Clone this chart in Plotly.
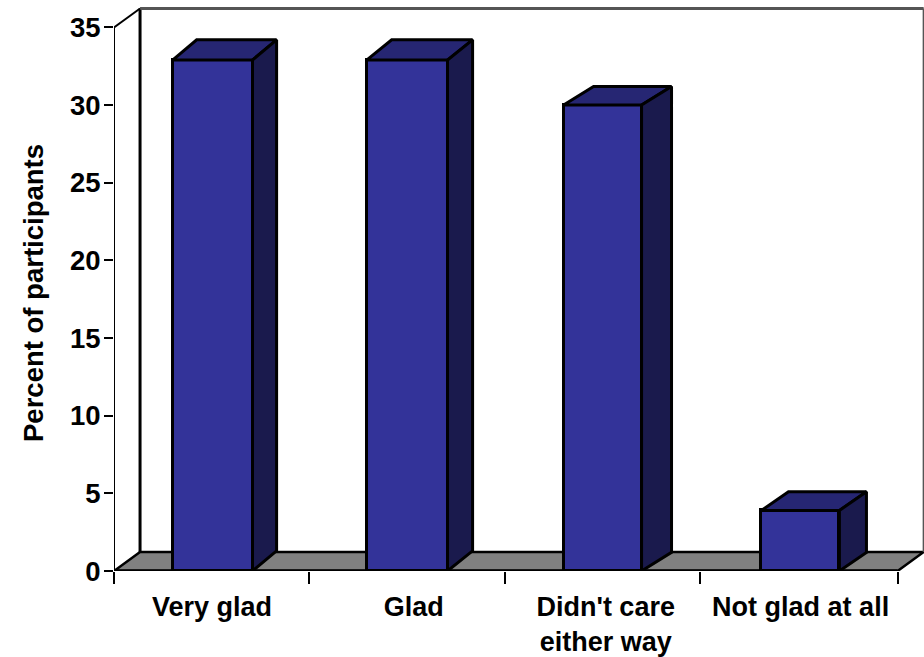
import plotly.graph_objects as go

# Survey responses
categories = ["Very glad", "Glad", "Didn't care<br>either way", "Not glad at all"]
percent = [32.9, 32.9, 30, 3.9]
y_ticks = [0, 5, 10, 15, 20, 25, 30, 35]

# Per-bar placement along the category axis (units of one category)
bar_centres = [0.503, 1.496, 2.494, 3.504]
bar_widths = [0.408, 0.413, 0.398, 0.398]
# Oblique projection of each bar's depth (x in categories, y in percent points)
bar_depth_x = [0.123, 0.128, 0.153, 0.138]
bar_depth_y = [1.3, 1.3, 1.2, 1.2]
# Oblique projection of the chart box depth
box_depth_x = 0.133
box_depth_y = 1.22
category_edges = [0, 0.993, 1.998, 2.99, 4]
label_positions = [0.5, 1.53, 2.51, 3.505]

FRONT = "#333399"
TOP = "#262673"
SIDE = "#1a1a4d"
FLOOR = "#808080"
FONT = "Liberation Sans"
LABEL_SIZE = 27.5
CATEGORY_SIZE = 27
BAR_EDGE = 3

PX_X = 195.9
PX_Y = 15.53
M_LEFT, M_TOP, M_BOTTOM = 114, 5, 86
WIDTH, HEIGHT = 924, 657

fig = go.Figure()


def polygon(xs, ys, fill):
    fig.add_trace(go.Scatter(
        x=xs + xs[:1], y=ys + ys[:1], mode="lines", fill="toself", fillcolor=fill,
        line=dict(color="black", width=BAR_EDGE), hoverinfo="skip", showlegend=False,
        cliponaxis=False,
    ))


def line(xs, ys, color="black", width=2.5):
    fig.add_trace(go.Scatter(
        x=xs, y=ys, mode="lines", line=dict(color=color, width=width),
        hoverinfo="skip", showlegend=False, cliponaxis=False,
    ))


# Front faces of the columns
fig.add_trace(go.Bar(
    x=bar_centres, y=percent, width=bar_widths,
    marker=dict(color=FRONT, line=dict(color="black", width=BAR_EDGE)),
    hoverinfo="skip", showlegend=False, cliponaxis=False,
))

# Top and side faces projected from the column heights
for c, w, v, dx, dy in zip(bar_centres, bar_widths, percent, bar_depth_x, bar_depth_y):
    l, r = c - w / 2, c + w / 2
    polygon([l, r, r + dx, l + dx], [v, v, v + dy, v + dy], TOP)
    polygon([r, r + dx, r + dx, r], [0, dy, v + dy, v], SIDE)

# Axis lines and the box edge joining the front axis to the back wall
line([0, 0], [0, 35], width=2)
line([0, 4], [0, 0], width=3.5)
line([0, box_depth_x], [35, 35 + box_depth_y], width=2)

# Floor and back wall sit below the columns
shapes = [
    dict(type="path", layer="below", xref="x", yref="y",
         path=f"M0,0 L{box_depth_x},{box_depth_y} L{4 + box_depth_x},{box_depth_y} L4,0 Z",
         fillcolor=FLOOR, line=dict(color="black", width=2.5)),
    dict(type="line", layer="below", xref="x", yref="y",
         x0=box_depth_x, x1=box_depth_x, y0=box_depth_y, y1=35 + box_depth_y,
         line=dict(color="black", width=3)),
    dict(type="line", layer="below", xref="x", yref="y",
         x0=box_depth_x, x1=4 + box_depth_x, y0=35 + box_depth_y, y1=35 + box_depth_y,
         line=dict(color="#555555", width=3)),
    dict(type="line", layer="below", xref="x", yref="y",
         x0=4 + box_depth_x, x1=4 + box_depth_x, y0=box_depth_y, y1=35 + box_depth_y,
         line=dict(color="#555555", width=2)),
]

plot_w = WIDTH - M_LEFT
plot_h = HEIGHT - M_TOP - M_BOTTOM

fig.update_layout(
    width=WIDTH, height=HEIGHT,
    margin=dict(l=M_LEFT, r=0, t=M_TOP, b=M_BOTTOM, pad=0),
    paper_bgcolor="white", plot_bgcolor="white",
    font=dict(family=FONT, size=LABEL_SIZE, color="black"),
    shapes=shapes,
    bargap=0,
    xaxis=dict(
        range=[0, plot_w / PX_X], tickmode="array", automargin=False,
        tickvals=label_positions, ticktext=[f"<b>{c}</b>" for c in categories],
        ticks="", ticklen=0, tickangle=0, showgrid=False, zeroline=False, showline=False,
        ticklabelstandoff=17,
        tickfont=dict(size=CATEGORY_SIZE),
        minor=dict(tickmode="array", tickvals=category_edges, ticks="outside",
                   ticklen=12, tickwidth=2, tickcolor="black", showgrid=False),
    ),
    yaxis=dict(
        range=[0, plot_h / PX_Y], tickmode="array", tickvals=y_ticks, automargin=False,
        ticktext=[f"<b>{t}</b>" for t in y_ticks],
        ticks="outside", ticklen=9, tickwidth=2, tickcolor="black",
        ticklabelstandoff=-2,
        showgrid=False, zeroline=False, showline=False,
        tickfont=dict(size=LABEL_SIZE),
    ),
    annotations=[dict(
        text="<b>Percent of participants</b>", textangle=-90, showarrow=False,
        xref="paper", yref="paper", xanchor="center", yanchor="middle",
        x=(33 - M_LEFT) / plot_w, y=(HEIGHT - M_BOTTOM - 293) / plot_h,
        font=dict(size=LABEL_SIZE),
    )],
)

fig.write_html("out.html")
